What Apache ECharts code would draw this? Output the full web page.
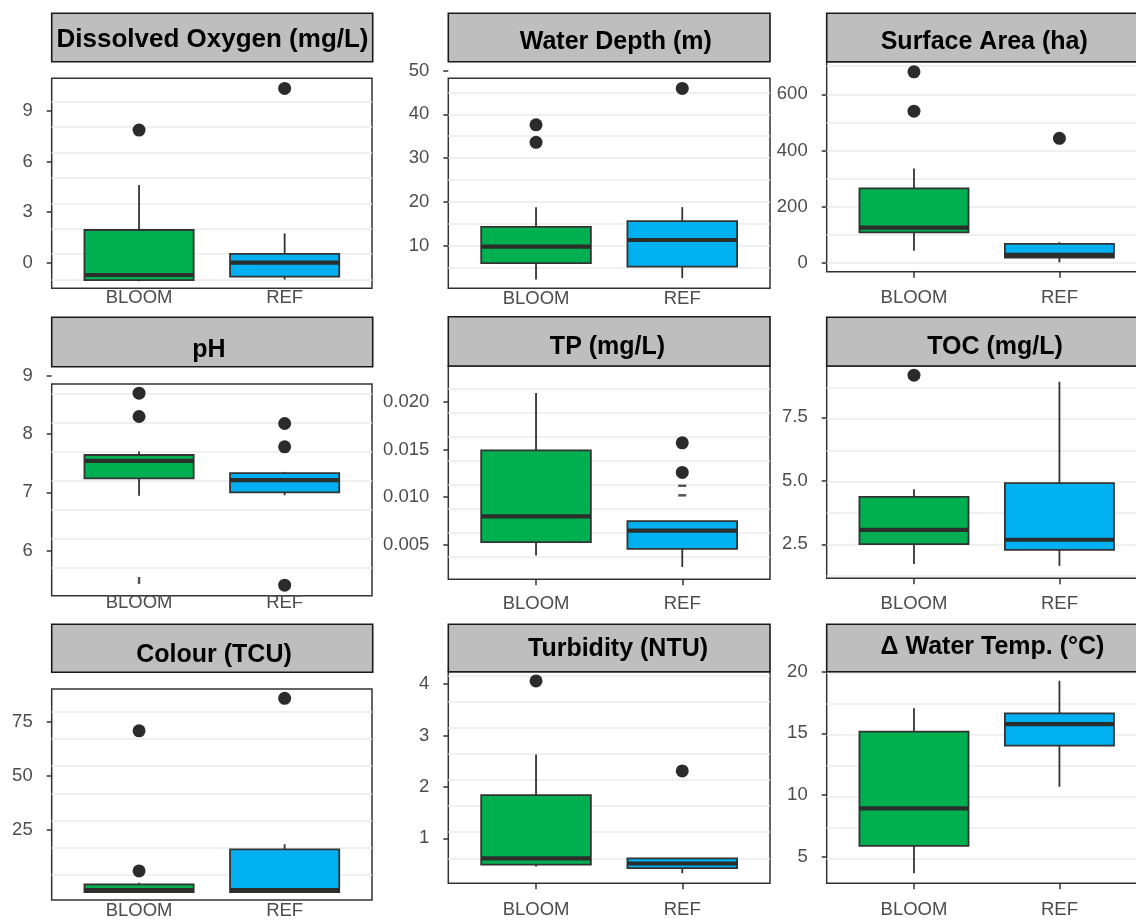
<!DOCTYPE html>
<html>
<head>
<meta charset="utf-8">
<script src="https://cdn.jsdelivr.net/npm/echarts@6/dist/echarts.min.js"></script>
<style>
  html, body { margin: 0; padding: 0; background: #fff; }
  #box { width: 1136px; height: 921px; }
</style>
</head>
<body>
<div id="box"></div>
<script>
// groups on the x axis of every facet
const groups = ['BLOOM', 'REF'];

// box stats per group: [lower whisker, Q1, median, Q3, upper whisker]
const doTitle = 'Dissolved Oxygen (mg/L)';
const doStats = [[-1.1, -1.03, -0.73, 1.94, 4.61], [-1.0, -0.83, 0.0, 0.52, 1.74]];
const doOutliers = [[1, 7.87], [2, 10.34]];
const doTicks = [0, 3, 6, 9];

const depthTitle = 'Water Depth (m)';
const depthStats = [[2.3, 6.0, 9.8, 14.3, 18.8], [2.6, 5.2, 11.3, 15.6, 18.8]];
const depthOutliers = [[1, 37.6], [1, 33.6], [2, 45.9]];
const depthTicks = [10, 20, 30, 40, 50];

const areaTitle = 'Surface Area (ha)';
const areaStats = [[43, 108, 125, 265, 336], [1, 18, 28, 67, 73]];
const areaOutliers = [[1, 680], [1, 540], [2, 443]];
const areaTicks = [0, 200, 400, 600];

const phTitle = 'pH';
const phStats = [[6.94, 7.24, 7.54, 7.64, 7.70], [6.95, 7.00, 7.21, 7.33, 7.35]];
const phOutliers = [[1, 8.70], [1, 8.30], [2, 8.18], [2, 7.78], [2, 5.41]];
const phDashes = [[1, 5.49]];
const phTicks = [6, 7, 8, 9];

const tpTitle = 'TP (mg/L)';
const tpStats = [[0.0039, 0.0053, 0.0080, 0.0149, 0.0209], [0.0027, 0.0046, 0.0065, 0.0075, 0.0075]];
const tpOutliers = [[2, 0.0157], [2, 0.0126]];
const tpDashes = [[2, 0.0112], [2, 0.0102]];
const tpTicks = [0.005, 0.010, 0.015, 0.020];

const tocTitle = 'TOC (mg/L)';
const tocStats = [[1.72, 2.51, 3.07, 4.37, 4.67], [1.65, 2.28, 2.68, 4.91, 8.90]];
const tocOutliers = [[1, 9.16]];
const tocTicks = [2.5, 5.0, 7.5];

const colourTitle = 'Colour (TCU)';
const colourStats = [[-3.7, -3.7, -2.8, -0.1, 0.6], [-3.7, -3.7, -2.8, 16.1, 18.4]];
const colourOutliers = [[1, 70.8], [1, 6.1], [2, 85.8]];
const colourTicks = [25, 50, 75];

const turbTitle = 'Turbidity (NTU)';
const turbStats = [[0.45, 0.49, 0.61, 1.84, 2.63], [0.32, 0.42, 0.51, 0.61, 0.61]];
const turbOutliers = [[1, 4.06], [2, 2.31]];
const turbTicks = [1, 2, 3, 4];

const tempTitle = '\u0394 Water Temp. (\u00b0C)';
const tempStats = [[3.65, 5.87, 8.92, 15.13, 17.03], [10.67, 14.0, 15.75, 16.62, 19.26]];
const tempOutliers = [];
const tempTicks = [5, 10, 15, 20];

const panels = [
  { title: doTitle, stats: doStats, outliers: doOutliers, dashes: [], ticks: doTicks, digits: 0 },
  { title: depthTitle, stats: depthStats, outliers: depthOutliers, dashes: [], ticks: depthTicks, digits: 0 },
  { title: areaTitle, stats: areaStats, outliers: areaOutliers, dashes: [], ticks: areaTicks, digits: 0 },
  { title: phTitle, stats: phStats, outliers: phOutliers, dashes: phDashes, ticks: phTicks, digits: 0 },
  { title: tpTitle, stats: tpStats, outliers: tpOutliers, dashes: tpDashes, ticks: tpTicks, digits: 3 },
  { title: tocTitle, stats: tocStats, outliers: tocOutliers, dashes: [], ticks: tocTicks, digits: 1 },
  { title: colourTitle, stats: colourStats, outliers: colourOutliers, dashes: [], ticks: colourTicks, digits: 0 },
  { title: turbTitle, stats: turbStats, outliers: turbOutliers, dashes: [], ticks: turbTicks, digits: 0 },
  { title: tempTitle, stats: tempStats, outliers: tempOutliers, dashes: [], ticks: tempTicks, digits: 0 }
];

// layout of the pasted-together facets (pixels); cal = label axis [v1, y1, v2, y2], lines = [y of a grid line, spacing]
const layout = [
  { panel: [51.7, 78.3, 372, 288.3], strip: [51.7, 13.3, 372.7, 61.7], titleAt: [212.5, 40], titleSize: 26, cal: [9, 111, 0, 262.7], lines: [254, 25.37], xMargin: 0, xTick: false, dash: [8, 2.5] },
  { panel: [448.3, 78.3, 770, 288.3], strip: [448.3, 13.3, 770, 61.7], titleAt: [615.8, 42.4], titleSize: 25, cal: [40, 114.3, 10, 245.7], lines: [245.7, 21.9], xMargin: 1, xTick: false, dash: [8, 2.5] },
  { panel: [826.7, 61.7, 1146.7, 271.7], strip: [826.7, 13.3, 1146.7, 61.7], titleAt: [984.2, 42.5], titleSize: 25, cal: [600, 94.3, 0, 262.7], lines: [262.7, 28.07], xMargin: 17, xTick: true, dash: [8, 2.5] },
  { panel: [51.7, 384, 372, 595.7], strip: [51.7, 317.3, 372.7, 366.7], titleAt: [209, 350], titleSize: 25, cal: [8, 434, 6, 550.7], lines: [480.7, 29.1], xMargin: -2, xTick: false, dash: [2.5, 7] },
  { panel: [448.3, 366, 770, 579.3], strip: [448.3, 316.7, 770, 366], titleAt: [607.5, 347.5], titleSize: 25, cal: [0.020, 401.7, 0.005, 545], lines: [556.7, 24.06], xMargin: 15, xTick: true, dash: [8, 2.5] },
  { panel: [826.7, 366, 1146.7, 578.3], strip: [826.7, 317.3, 1146.7, 366], titleAt: [995, 347.5], titleSize: 25, cal: [7.5, 417.3, 2.5, 544.3], lines: [481.7, 31.4], xMargin: 16, xTick: true, dash: [8, 2.5] },
  { panel: [51.7, 689, 372, 900], strip: [51.7, 624.3, 372.7, 672.3], titleAt: [214, 655], titleSize: 25, cal: [75, 721.7, 25, 830], lines: [875, 27.2], xMargin: 1, xTick: false, dash: [8, 2.5] },
  { panel: [448.3, 671.7, 770, 883.3], strip: [448.3, 624.3, 770, 671.7], titleAt: [618, 649], titleSize: 25, cal: [4, 684, 1, 838.3], lines: [858.3, 26.1], xMargin: 17, xTick: true, dash: [8, 2.5] },
  { panel: [826.7, 671.7, 1146.7, 883.3], strip: [826.7, 624.3, 1146.7, 671.7], titleAt: [992.5, 646.7], titleSize: 25, cal: [15, 733.3, 5, 856.7], lines: [858.3, 31], xMargin: 17, xTick: true, dash: [8, 2.5] }
];

const ink = '#333333';
const fills = ['#00B050', '#00B0F0'];
const font = '"Liberation Sans", Arial, Helvetica, sans-serif';
const labelStyle = { color: '#4d4d4d', fontSize: 18.5, fontFamily: font };

function renderBox(params, api) {
  const x = api.value(0);
  const lo = api.coord([x, api.value(1)]);
  const q1 = api.coord([x, api.value(2)]);
  const md = api.coord([x, api.value(3)]);
  const q3 = api.coord([x, api.value(4)]);
  const hi = api.coord([x, api.value(5)]);
  const half = api.size([0.75, 0])[0] / 2;
  const line = { stroke: ink, lineWidth: 1.8 };
  return {
    type: 'group',
    children: [
      { type: 'line', shape: { x1: lo[0], y1: lo[1], x2: q1[0], y2: q1[1] }, style: line },
      { type: 'line', shape: { x1: q3[0], y1: q3[1], x2: hi[0], y2: hi[1] }, style: line },
      { type: 'rect', shape: { x: q3[0] - half, y: q3[1], width: half * 2, height: q1[1] - q3[1] },
        style: { fill: fills[x - 1], stroke: ink, lineWidth: 1.8 } },
      { type: 'line', shape: { x1: md[0] - half, y1: md[1], x2: md[0] + half, y2: md[1] },
        style: { stroke: '#2a2f2c', lineWidth: 4.2 } }
    ]
  };
}

const grids = [], xAxes = [], yAxes = [], series = [], graphics = [];

panels.forEach((p, i) => {
  const L = layout[i];
  const [x0, y0, x1, y1] = L.panel;
  const [a, ya, b, yb] = L.cal;
  const pxPer = (yb - ya) / (a - b);
  const pix = v => ya + (a - v) * pxPer;
  const val = y => a - (y - ya) / pxPer;
  const lTop = Math.min(y0, pix(Math.max(...p.ticks)) - 12);
  const lBot = Math.max(y1, pix(Math.min(...p.ticks)) + 12);
  const [g0, dg] = L.lines;
  const gi = 2 * i, li = 2 * i + 1;

  // facet panel with its grid lines
  grids.push({ left: x0, top: y0, width: x1 - x0, height: y1 - y0, show: true,
    borderColor: ink, borderWidth: 1.5, containLabel: false, outerBoundsMode: 'none' });
  // label axis of the facet (the axis strips sit a bit off the panels)
  grids.push({ left: x0, top: lTop, width: x1 - x0, height: lBot - lTop, show: false,
    containLabel: false, outerBoundsMode: 'none' });

  xAxes.push({
    gridIndex: gi, type: 'value', position: 'bottom', min: 0.4, max: 2.6, minInterval: 1, maxInterval: 1,
    axisLine: { show: false, onZero: false },
    axisTick: { show: L.xTick, customValues: [1, 2], length: 6, lineStyle: { color: ink, width: 1.5 } },
    axisLabel: Object.assign({ customValues: [1, 2], margin: L.xMargin,
      formatter: v => groups[Math.round(v) - 1] || '' }, labelStyle),
    splitLine: { show: true, showMinLine: false, showMaxLine: false, lineStyle: { color: '#ebebeb', width: 1.5 } }
  });
  xAxes.push({ gridIndex: li, type: 'value', min: 0.4, max: 2.6, show: false, axisLine: { onZero: false } });

  yAxes.push({
    gridIndex: gi, type: 'value', min: (g0 - y1) / dg, max: (g0 - y0) / dg, minInterval: 1, maxInterval: 1,
    axisLine: { show: false, onZero: false }, axisTick: { show: false }, axisLabel: { show: false },
    splitLine: { show: true, showMinLine: false, showMaxLine: false, lineStyle: { color: '#ebebeb', width: 1.5 } }
  });
  yAxes.push({
    gridIndex: li, type: 'value', position: 'left', min: val(lBot), max: val(lTop),
    axisLine: { show: false, onZero: false },
    axisTick: { show: true, customValues: p.ticks, length: 5, lineStyle: { color: ink, width: 1.5 } },
    axisLabel: Object.assign({ customValues: p.ticks, margin: 19,
      formatter: v => v.toFixed(p.digits) }, labelStyle),
    splitLine: { show: false }
  });

  series.push({
    type: 'custom', xAxisIndex: li, yAxisIndex: li, clip: false,
    renderItem: renderBox,
    encode: { x: 0, y: [1, 2, 3, 4, 5] },
    data: p.stats.map((s, k) => [k + 1].concat(s)),
    z: 2
  });
  series.push({
    type: 'scatter', xAxisIndex: li, yAxisIndex: li, data: p.outliers,
    symbolSize: 13, itemStyle: { color: '#2b2b2b', opacity: 1 }, z: 3, clip: false
  });
  if (p.dashes.length) {
    series.push({
      type: 'scatter', xAxisIndex: li, yAxisIndex: li, data: p.dashes,
      symbol: 'rect', symbolSize: L.dash, itemStyle: { color: '#2b2b2b' }, z: 3, clip: false
    });
  }

  // grey facet strip with its title
  const [sx0, sy0, sx1, sy1] = L.strip;
  graphics.push({ type: 'rect', shape: { x: sx0, y: sy0, width: sx1 - sx0, height: sy1 - sy0 },
    style: { fill: '#bebebe', stroke: '#1a1a1a', lineWidth: 1.6 }, z: 10 });
  graphics.push({ type: 'text', x: L.titleAt[0], y: L.titleAt[1], z: 11,
    style: { text: p.title, font: 'bold ' + L.titleSize + 'px ' + font, fill: '#000',
      textAlign: 'center', textVerticalAlign: 'middle' } });
});

const chart = echarts.init(document.getElementById('box'));
chart.setOption({
  backgroundColor: '#ffffff',
  animation: false,
  grid: grids,
  xAxis: xAxes,
  yAxis: yAxes,
  series: series,
  graphic: graphics
});
window.onresize = function () {
  chart.resize();
};
</script>
</body>
</html>
